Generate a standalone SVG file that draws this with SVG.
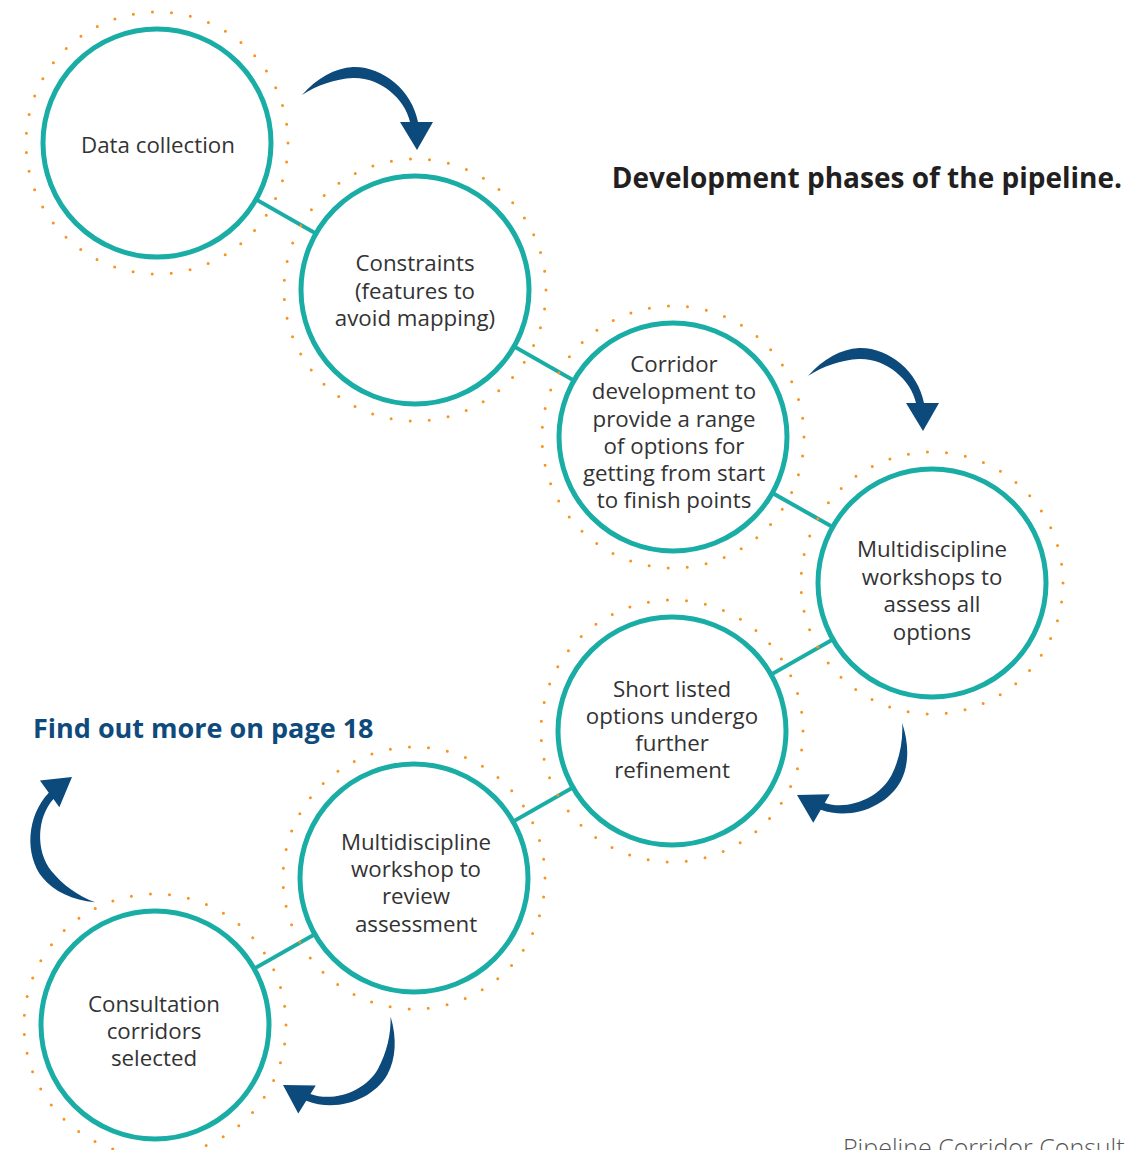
<svg xmlns="http://www.w3.org/2000/svg" xmlns:xlink="http://www.w3.org/1999/xlink" width="1125" height="1150" viewBox="0 0 1125 1150">
  <style>
    .ring { fill: #ffffff; stroke: #1aada5; stroke-width: 5; }
    .dots { fill: none; stroke: #f7941e; stroke-width: 3; stroke-linecap: round; stroke-dasharray: 0 19.14; }
    .link { stroke: #1aada5; stroke-width: 4; fill: none; }
    .label { font-family: "Open Sans", Lato, "Liberation Sans", sans-serif; font-size: 22.3px; fill: #333333; text-anchor: middle; }
    .title { font-family: "Open Sans", Lato, "Liberation Sans", sans-serif; font-size: 28px; font-weight: bold; fill: #231f20; }
    .more { font-family: "Open Sans", Lato, "Liberation Sans", sans-serif; font-size: 27px; font-weight: bold; fill: #0f4a7c; }
    .foot { font-family: "Open Sans", Lato, "Liberation Sans", sans-serif; font-size: 25px; font-weight: 300; fill: #555555; }
    .turn { fill: #0b4a7b; }
  </style>
  <defs>
    <!-- curved arrow, tip at the origin, pointing down -->
    <path id="turn" d="M -115 -55 C -100 -72 -82 -82 -64 -83 C -35 -84 -5 -60 1 -28 L 16 -28 L 0 0 L -17 -28 L -7 -28 C -12 -52 -38 -73 -64 -72 C -82 -71 -100 -65 -115 -55 Z"/>
  </defs>
  <rect width="1125" height="1150" fill="#ffffff"/>

  <!-- connectors between consecutive phases -->
  <g id="connectors">
    <line class="link" x1="157" y1="143" x2="415" y2="290"/>
    <line class="link" x1="415" y1="290" x2="673" y2="437"/>
    <line class="link" x1="673" y1="437" x2="932" y2="583"/>
    <line class="link" x1="932" y1="583" x2="672" y2="731"/>
    <line class="link" x1="672" y1="731" x2="414" y2="878"/>
    <line class="link" x1="414" y1="878" x2="155" y2="1025"/>
  </g>

  <!-- progress arrows -->
  <g id="arrows" class="turn">
    <use xlink:href="#turn" transform="translate(417,150)"/>
    <use xlink:href="#turn" transform="translate(923,431)"/>
    <use xlink:href="#turn" transform="translate(797,795) rotate(120)"/>
    <use xlink:href="#turn" transform="translate(283,1085) rotate(122)"/>
    <use xlink:href="#turn" transform="translate(72,777) rotate(-126)"/>
  </g>

  <g id="node-data-collection">
    <circle class="ring" cx="157" cy="143" r="114"/>
    <circle class="dots" cx="157" cy="143" r="131"/>
    <text class="label" x="158" y="153">Data collection</text>
  </g>

  <g id="node-constraints">
    <circle class="ring" cx="415" cy="290" r="114"/>
    <circle class="dots" cx="415" cy="290" r="131"/>
    <text class="label" x="415" y="271">Constraints</text>
    <text class="label" x="415" y="299">(features to</text>
    <text class="label" x="415" y="326">avoid mapping)</text>
  </g>

  <g id="node-corridor-development">
    <circle class="ring" cx="673" cy="437" r="114"/>
    <circle class="dots" cx="673" cy="437" r="131"/>
    <text class="label" x="674" y="372">Corridor</text>
    <text class="label" x="674" y="399">development to</text>
    <text class="label" x="674" y="427">provide a range</text>
    <text class="label" x="674" y="454">of options for</text>
    <text class="label" x="674" y="481">getting from start</text>
    <text class="label" x="674" y="508">to finish points</text>
  </g>

  <g id="node-workshops">
    <circle class="ring" cx="932" cy="583" r="114"/>
    <circle class="dots" cx="932" cy="583" r="131"/>
    <text class="label" x="932" y="557">Multidiscipline</text>
    <text class="label" x="932" y="585">workshops to</text>
    <text class="label" x="932" y="612">assess all</text>
    <text class="label" x="932" y="640">options</text>
  </g>

  <g id="node-short-listed">
    <circle class="ring" cx="672" cy="731" r="114"/>
    <circle class="dots" cx="672" cy="731" r="131"/>
    <text class="label" x="672" y="697">Short listed</text>
    <text class="label" x="672" y="724">options undergo</text>
    <text class="label" x="672" y="751">further</text>
    <text class="label" x="672" y="778">refinement</text>
  </g>

  <g id="node-review-workshop">
    <circle class="ring" cx="414" cy="878" r="114"/>
    <circle class="dots" cx="414" cy="878" r="131"/>
    <text class="label" x="416" y="850">Multidiscipline</text>
    <text class="label" x="416" y="877">workshop to</text>
    <text class="label" x="416" y="904">review</text>
    <text class="label" x="416" y="932">assessment</text>
  </g>

  <g id="node-consultation">
    <circle class="ring" cx="155" cy="1025" r="114"/>
    <circle class="dots" cx="155" cy="1025" r="131"/>
    <text class="label" x="154" y="1012">Consultation</text>
    <text class="label" x="154" y="1039">corridors</text>
    <text class="label" x="154" y="1066">selected</text>
  </g>

  <text class="title" x="1122" y="188" text-anchor="end">Development phases of the pipeline.</text>
  <text class="more" x="33" y="738">Find out more on page 18</text>
  <text class="foot" x="843" y="1157">Pipeline Corridor Consult</text>
</svg>
